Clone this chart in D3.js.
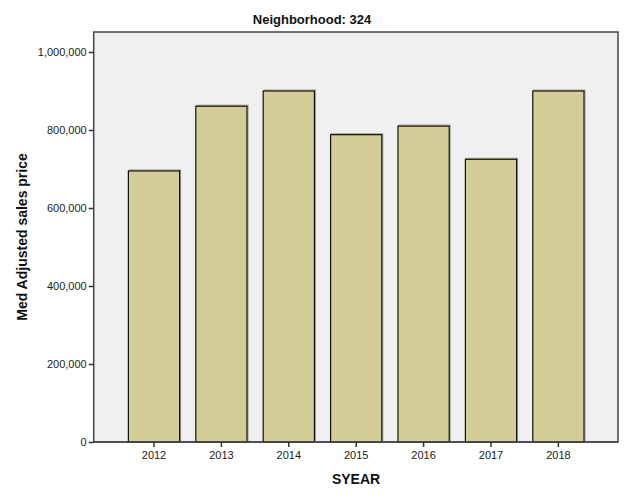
<!DOCTYPE html>
<html><head><meta charset="utf-8">
<script src="https://cdn.jsdelivr.net/npm/d3@7"></script>
<style>html,body{margin:0;padding:0;background:#fff;} svg{display:block;}</style>
</head><body>
<script>
const years = ["2012","2013","2014","2015","2016","2017","2018"];
const medPrice = [695000, 861000, 900000, 788000, 810000, 725000, 900000];
const yTicks = [0, 200000, 400000, 600000, 800000, 1000000];
const title = "Neighborhood: 324";
const xTitle = "SYEAR";
const yTitle = "Med Adjusted sales price";

const W = 625, H = 500;
const plot = {left: 93.7, right: 618, top: 32, bottom: 442};
const svg = d3.select("body").append("svg").attr("width", W).attr("height", H);

const x = d3.scaleBand().domain(years).range([120.3, 592.1]).paddingInner(0.24).paddingOuter(0.12);
const y = d3.scaleLinear().domain([0, 1000000]).range([442, 52]);

svg.append("rect").attr("x", plot.left).attr("y", plot.top)
  .attr("width", plot.right - plot.left).attr("height", plot.bottom - plot.top)
  .attr("fill", "#f0f0f0").attr("stroke", "#454545").attr("stroke-width", 1.5);

const bars = svg.append("g");
bars.selectAll("rect.shadow").data(years).join("rect")
  .attr("x", (d,i) => x(d) + 1).attr("y", (d,i) => y(medPrice[i]) - 1)
  .attr("width", x.bandwidth()).attr("height", (d,i) => y(0) - y(medPrice[i]) + 1)
  .attr("fill", "none").attr("stroke", "#9a9a8a").attr("stroke-width", 1);
bars.selectAll("rect.bar").data(years).join("rect")
  .attr("x", d => x(d)).attr("y", (d,i) => y(medPrice[i]))
  .attr("width", x.bandwidth()).attr("height", (d,i) => y(0) - y(medPrice[i]))
  .attr("fill", "#d3ce97").attr("stroke", "#111").attr("stroke-width", 1.2);

svg.append("line").attr("x1", plot.left).attr("x2", plot.right).attr("y1", plot.bottom).attr("y2", plot.bottom)
  .attr("stroke", "#454545").attr("stroke-width", 1.5);

const fontFam = "'Liberation Sans', Arial, sans-serif";

const yAxis = d3.axisLeft(y).tickValues(yTicks).tickSize(5).tickPadding(2).tickFormat(d3.format(","));
const gy = svg.append("g").attr("transform", `translate(${plot.left},0)`).call(yAxis);
gy.select(".domain").remove();
gy.selectAll(".tick line").attr("stroke", "#333").attr("stroke-width", 1.5);
gy.selectAll(".tick text").attr("font-family", fontFam).attr("font-size", 11).attr("fill", "#222");

const xAxis = d3.axisBottom(x).tickSize(5).tickPadding(4);
const gx = svg.append("g").attr("transform", `translate(0,${plot.bottom})`).call(xAxis);
gx.select(".domain").remove();
gx.selectAll(".tick line").attr("stroke", "#333").attr("stroke-width", 1.5);
gx.selectAll(".tick text").attr("font-family", fontFam).attr("font-size", 11).attr("fill", "#222");

svg.append("text").attr("x", 312).attr("y", 24).attr("text-anchor", "middle")
  .attr("font-family", fontFam)
  .attr("font-weight", "bold").attr("font-size", 13).attr("fill", "#111").text(title);

svg.append("text").attr("x", 356).attr("y", 484).attr("text-anchor", "middle")
  .attr("font-family", fontFam).attr("font-weight", "bold").attr("font-size", 14).attr("fill", "#111").text(xTitle);

svg.append("text").attr("transform", "translate(27,237) rotate(-90)").attr("text-anchor", "middle")
  .attr("font-family", fontFam).attr("font-weight", "bold").attr("font-size", 14).attr("fill", "#111").text(yTitle);
</script>
</body></html>
